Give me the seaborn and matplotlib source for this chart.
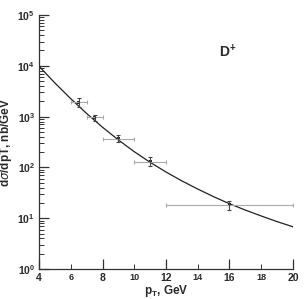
import numpy as np
import pandas as pd
import matplotlib
matplotlib.use("Agg")
import matplotlib.pyplot as plt
import seaborn as sns
from matplotlib.ticker import MultipleLocator, FormatStrFormatter, LogLocator, NullFormatter

# theory curve
curve_pt = [4, 5, 6, 7, 8, 9, 10, 11, 12, 13, 14, 15, 16, 17, 18, 19, 20]
curve_xs = [9770, 4570, 2240, 1150, 617, 347, 204, 126, 81.3, 54.3, 37.6, 26.6, 19.3, 14.5, 11.1, 8.6, 6.8]

# measured points
pt = [6.5, 7.5, 9.0, 11.0, 16.0]
pt_err = [0.5, 0.5, 1.0, 1.0, 4.0]
xs = [1900, 970, 365, 130, 18.6]
xs_lo = [350, 140, 55, 22, 4.0]
xs_hi = [400, 130, 70, 28, 3.5]

sns.set_theme(style="ticks")
plt.rcParams['font.family'] = ['Liberation Sans', 'DejaVu Sans']

fig = plt.figure(figsize=(3.08, 2.99), dpi=100)
ax = fig.add_axes([0.127, 0.100, 0.824, 0.850])

df = pd.DataFrame({'pt': curve_pt, 'xs': curve_xs})
sns.lineplot(data=df, x='pt', y='xs', ax=ax, color='#222222', lw=0.9)

# horizontal (bin width) bars in light grey, vertical errors dark
ax.errorbar(pt, xs, xerr=pt_err, fmt='none', ecolor='#aaaaaa', elinewidth=0.8,
            capsize=1.5, capthick=0.8)
ax.errorbar(pt, xs, yerr=[xs_lo, xs_hi], fmt='none', ecolor='#444444', elinewidth=0.8,
            capsize=1.5, capthick=0.8)
sns.scatterplot(x=pt, y=xs, ax=ax, marker='s', s=5, color='#222222', edgecolor='none')

ax.set_yscale('log')
ax.set_xlim(4, 20)
ax.set_ylim(1, 1e5)

ax.xaxis.set_major_locator(MultipleLocator(4))
ax.xaxis.set_minor_locator(MultipleLocator(2))
ax.xaxis.set_major_formatter(FormatStrFormatter('%d'))
ax.xaxis.set_minor_formatter(FormatStrFormatter('%d'))
ax.yaxis.set_major_locator(LogLocator(base=10, numticks=10))
ax.yaxis.set_minor_locator(LogLocator(base=10, subs=np.arange(2, 10), numticks=10))
ax.yaxis.set_minor_formatter(NullFormatter())

ax.tick_params(axis='both', which='major', direction='in', length=7, width=0.9,
               color='#333333', labelsize=7.5, labelcolor='#2a2a2a', pad=3)
ax.tick_params(axis='both', which='minor', direction='in', length=3.5, width=0.7,
               color='#333333', labelsize=6.5, labelcolor='#2a2a2a', pad=3)
for lab in ax.get_xticklabels() + ax.get_yticklabels():
    lab.set_fontweight('bold')
for lab in ax.get_xticklabels(minor=True):
    lab.set_fontweight('bold')

sns.despine(ax=ax)
for s in ['left', 'bottom']:
    ax.spines[s].set_color('#333333')
    ax.spines[s].set_linewidth(0.9)

ax.set_xlabel(r'p$_\mathregular{T}$, GeV', fontsize=8.5, fontweight='bold', color='#2a2a2a', labelpad=0)
ax.set_ylabel(r'd$\sigma$/dpT, nb/GeV', fontsize=8.5, fontweight='bold', color='#2a2a2a', labelpad=2)
ax.text(15.9, 1.9e4, r'D$^\mathregular{+}$', fontsize=10, fontweight='bold', color='#2a2a2a',
        ha='center', va='center')

fig.savefig('out.png', dpi=100)
